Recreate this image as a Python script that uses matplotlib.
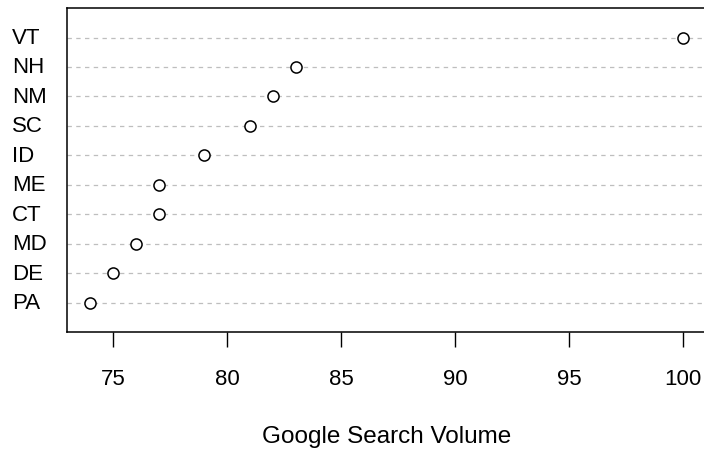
import numpy as np
import matplotlib
matplotlib.use("Agg")
import matplotlib.pyplot as plt
from matplotlib.transforms import blended_transform_factory

# states, top to bottom as shown
states = ["VT", "NH", "NM", "SC", "ID", "ME", "CT", "MD", "DE", "PA"]
volume = [100, 83, 82, 81, 79, 77, 77, 76, 75, 74]
xticks = [75, 80, 85, 90, 95, 100]

plt.rcParams['font.family'] = ['Liberation Sans', 'DejaVu Sans']

fig = plt.figure(figsize=(7.04, 4.52), dpi=100)
# right edge runs past the figure, like the reference
ax = fig.add_axes([0.0947, 0.263, 0.9094, 0.717])

n = len(states)
ypos = np.arange(n, 0, -1)

for y in ypos:
    ax.axhline(y, color="#bebebe", lw=0.9, ls=(0, (3.5, 3.5)), zorder=1)
ax.plot(volume, ypos, "o", mfc="white", mec="black", mew=1.1, ms=8,
        ls="none", zorder=3)

rng = max(volume) - min(volume)
ax.set_xlim(min(volume) - 0.04 * rng, max(volume) + 0.04 * rng)
ax.set_ylim(0, n + 1)

ax.set_yticks([])
ax.set_xticks(xticks)
ax.tick_params(axis="x", length=11, width=1, labelsize=16, pad=15, colors="black")
for s in ax.spines.values():
    s.set_linewidth(1.1)

# state labels, left aligned in the margin
trans = blended_transform_factory(fig.transFigure, ax.transData)
for y, s in zip(ypos, states):
    fig.text(12 / 704, y, s, transform=trans, ha="left", va="center", fontsize=16)

ax.set_xlabel("Google Search Volume", fontsize=17.5, labelpad=26)

fig.savefig("out.png", dpi=100)
